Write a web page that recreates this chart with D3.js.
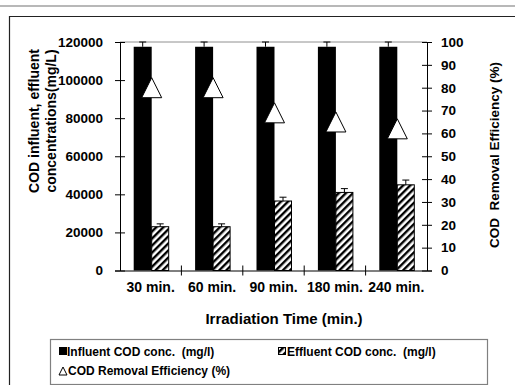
<!DOCTYPE html>
<html>
<head>
<meta charset="utf-8">
<script src="https://cdn.jsdelivr.net/npm/d3@7"></script>
<style>
  body { margin: 0; background: #fff; }
  svg text { font-family: "Liberation Sans", Arial, sans-serif; font-weight: bold; fill: #000; }
</style>
</head>
<body>
<div id="chart"></div>
<script>
const categories = ['30 min.', '60 min.', '90 min.', '180 min.', '240 min.'];
const influent = [117500, 117500, 117500, 117500, 117500];
const influentErr = [2500, 2500, 2500, 2500, 2500];
const effluent = [23000, 23000, 36500, 41000, 45000];
const effluentErr = [1500, 1500, 2000, 2000, 2500];
const removal = [80, 80, 69, 65, 62];
const leftTicks = [0, 20000, 40000, 60000, 80000, 100000, 120000];
const rightTicks = [0, 10, 20, 30, 40, 50, 60, 70, 80, 90, 100];

const width = 515;
const height = 385;
const plot = { left: 120, right: 427, top: 42, bottom: 270.5 };
const barWidth = 18;

const svg = d3.select('#chart').append('svg')
  .attr('width', width)
  .attr('height', height);

// hatch for effluent bars
svg.append('defs').append('pattern')
  .attr('id', 'hatch')
  .attr('patternUnits', 'userSpaceOnUse')
  .attr('width', 5)
  .attr('height', 5)
  .attr('patternTransform', 'rotate(45)')
  .call(p => {
    p.append('rect').attr('width', 5).attr('height', 5).attr('fill', '#fff');
    p.append('line').attr('x1', 1.2).attr('x2', 1.2).attr('y1', 0).attr('y2', 5)
      .attr('stroke', '#000').attr('stroke-width', 2.4);
  });

// page lines and outer frame
svg.append('line').attr('x1', 0).attr('x2', width).attr('y1', 6).attr('y2', 6)
  .attr('stroke', '#a0a0a0').attr('stroke-width', 1.5);
svg.append('path').attr('d', `M${width},16.5H9.5V${height}`)
  .attr('fill', 'none').attr('stroke', '#222').attr('stroke-width', 1.2);

const x = d3.scaleBand().domain(categories).range([plot.left, plot.right]);
const yL = d3.scaleLinear().domain([0, 120000]).range([plot.bottom, plot.top]);
const yR = d3.scaleLinear().domain([0, 100]).range([plot.bottom, plot.top]);
const groupX = c => x(c) + x.bandwidth() / 2 + 1;

// plot area top border
svg.append('line').attr('x1', plot.left).attr('x2', plot.right)
  .attr('y1', plot.top).attr('y2', plot.top)
  .attr('stroke', '#909090').attr('stroke-width', 1);

const rows = categories.map((c, i) => ({
  c, inf: influent[i], infErr: influentErr[i], eff: effluent[i], effErr: effluentErr[i], rem: removal[i],
}));

// bars
const g = svg.append('g');
g.selectAll('.inf').data(rows).enter().append('rect')
  .attr('class', 'inf')
  .attr('x', d => groupX(d.c) - barWidth)
  .attr('y', d => yL(d.inf))
  .attr('width', barWidth)
  .attr('height', d => yL(0) - yL(d.inf))
  .attr('fill', '#000');
g.selectAll('.eff').data(rows).enter().append('rect')
  .attr('class', 'eff')
  .attr('x', d => groupX(d.c))
  .attr('y', d => yL(d.eff))
  .attr('width', barWidth - 1)
  .attr('height', d => yL(0) - yL(d.eff))
  .attr('fill', 'url(#hatch)')
  .attr('stroke', '#000')
  .attr('stroke-width', 1);

// error bars
const errBar = (sel, cx, top, val) => {
  sel.append('path')
    .attr('d', d => `M${cx(d)},${yL(val(d))}V${yL(top(d))}M${cx(d) - 3.5},${yL(top(d))}h7`)
    .attr('stroke', '#000').attr('stroke-width', 1).attr('fill', 'none');
};
g.selectAll('.infErr').data(rows).enter().append('g').attr('class', 'infErr')
  .call(errBar, d => groupX(d.c) - barWidth / 2, d => d.inf + d.infErr, d => d.inf);
g.selectAll('.effErr').data(rows).enter().append('g').attr('class', 'effErr')
  .call(errBar, d => groupX(d.c) + (barWidth - 1) / 2, d => d.eff + d.effErr, d => d.eff);

// removal efficiency triangles
const tri = (cx, cy, s) => `M${cx},${cy - s}L${cx + s},${cy + s}L${cx - s},${cy + s}Z`;
g.selectAll('.rem').data(rows).enter().append('path')
  .attr('class', 'rem')
  .attr('d', d => tri(groupX(d.c), yR(d.rem), 10))
  .attr('fill', '#fff')
  .attr('stroke', '#000')
  .attr('stroke-width', 1);

// axes
const crossTicks = (axisG, len) => {
  axisG.selectAll('.tick line').attr('x1', -len).attr('x2', len);
};
const leftAxis = svg.append('g')
  .attr('transform', `translate(${plot.left},0)`)
  .call(d3.axisLeft(yL).tickValues(leftTicks).tickSize(5).tickFormat(d3.format('d')));
crossTicks(leftAxis, 5);
leftAxis.selectAll('text').attr('x', -17).style('font-size', '13.5px');

const rightAxis = svg.append('g')
  .attr('transform', `translate(${plot.right},0)`)
  .call(d3.axisRight(yR).tickValues(rightTicks).tickSize(5));
crossTicks(rightAxis, 5);
rightAxis.selectAll('text').attr('x', 14).style('font-size', '13.5px');

const bottomAxis = svg.append('g')
  .attr('transform', `translate(0,${plot.bottom})`)
  .call(d3.axisBottom(x).tickSize(0));
bottomAxis.selectAll('text').attr('y', 12).style('font-size', '14px');
bottomAxis.selectAll('.cat-tick').data(categories.slice(1)).enter().append('line')
  .attr('class', 'cat-tick')
  .attr('x1', c => x(c)).attr('x2', c => x(c))
  .attr('y1', -5).attr('y2', 5)
  .attr('stroke', '#000');

svg.selectAll('.domain').attr('stroke', '#000').attr('stroke-width', 1);
svg.selectAll('.tick line').attr('stroke', '#000');

// axis titles
svg.append('text')
  .attr('transform', 'translate(39,121) rotate(-90)')
  .attr('text-anchor', 'middle')
  .style('font-size', '14px')
  .text('COD influent, effluent');
svg.append('text')
  .attr('transform', 'translate(56,121) rotate(-90)')
  .attr('text-anchor', 'middle')
  .style('font-size', '14px')
  .text('concentrations(mg/L)');
svg.append('text')
  .attr('transform', 'translate(499,155) rotate(-90)')
  .attr('text-anchor', 'middle')
  .style('font-size', '13.5px')
  .style('white-space', 'pre')
  .text('COD  Removal Efficiency (%)');
svg.append('text')
  .attr('x', 284)
  .attr('y', 324)
  .attr('text-anchor', 'middle')
  .style('font-size', '15px')
  .text('Irradiation Time (min.)');

// legend
const legend = svg.append('g');
legend.append('rect')
  .attr('x', 50.5).attr('y', 339.5).attr('width', 437).attr('height', 45)
  .attr('fill', '#fff').attr('stroke', '#808080').attr('stroke-width', 1.2);
legend.append('rect').attr('x', 59).attr('y', 347).attr('width', 8).attr('height', 8).attr('fill', '#000');
legend.append('text').attr('x', 67).attr('y', 355.5).style('font-size', '12px').style('white-space', 'pre')
  .text('Influent COD conc.  (mg/l)');
legend.append('rect').attr('x', 278.5).attr('y', 347.5).attr('width', 7).attr('height', 7)
  .attr('fill', 'url(#hatch)').attr('stroke', '#000');
legend.append('text').attr('x', 287).attr('y', 355.5).style('font-size', '12px').style('white-space', 'pre')
  .text('Effluent COD conc.  (mg/l)');
legend.append('path').attr('d', tri(63, 371, 4)).attr('fill', '#fff').attr('stroke', '#000');
legend.append('text').attr('x', 68).attr('y', 375).style('font-size', '12px')
  .text('COD Removal Efficiency (%)');
</script>
</body>
</html>
